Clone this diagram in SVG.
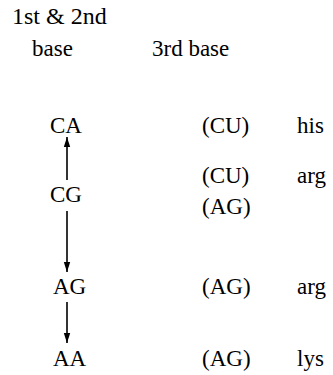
<svg xmlns="http://www.w3.org/2000/svg" width="333" height="375" viewBox="0 0 333 375">
  <style>
    .conn line { stroke: #000; stroke-width: 1.6; }
  </style>
  <defs>
    <marker id="head" viewBox="0 0 10 10" refX="10" refY="5" markerWidth="10" markerHeight="10" markerUnits="userSpaceOnUse" orient="auto">
      <path d="M0,1.8 L10,5 L0,8.2 Z" fill="#000"/>
    </marker>
  </defs>
  <rect width="333" height="375" fill="#fff"/>

  <g font-family="Liberation Serif, Times New Roman, Times, serif" font-size="23" fill="#000">
    <!-- column headings -->
    <g id="headings">
      <text x="12" y="24" font-size="24">1st &amp; 2nd</text>
      <text x="32" y="56">base</text>
      <text x="152" y="56">3rd base</text>
    </g>

    <!-- first and second base pairs -->
    <g id="node-CA"><text x="50" y="133">CA</text></g>
    <g id="node-CG"><text x="50" y="202">CG</text></g>
    <g id="node-AG"><text x="53" y="294">AG</text></g>
    <g id="node-AA"><text x="53" y="366">AA</text></g>

    <!-- third base and amino acid -->
    <g id="row-his">
      <text x="202" y="133">(CU)</text>
      <text x="297" y="133">his</text>
    </g>
    <g id="row-arg1">
      <text x="202" y="183">(CU)</text>
      <text x="297" y="183">arg</text>
      <text x="202" y="214">(AG)</text>
    </g>
    <g id="row-arg2">
      <text x="202" y="294">(AG)</text>
      <text x="297" y="294">arg</text>
    </g>
    <g id="row-lys">
      <text x="202" y="366">(AG)</text>
      <text x="297" y="366">lys</text>
    </g>
  </g>

  <!-- transitions between base pairs -->
  <g class="conn">
    <line x1="67" y1="180" x2="67" y2="137" marker-end="url(#head)"/>
    <line x1="67" y1="211" x2="67" y2="272" marker-end="url(#head)"/>
    <line x1="67" y1="302" x2="67" y2="343" marker-end="url(#head)"/>
  </g>
</svg>
